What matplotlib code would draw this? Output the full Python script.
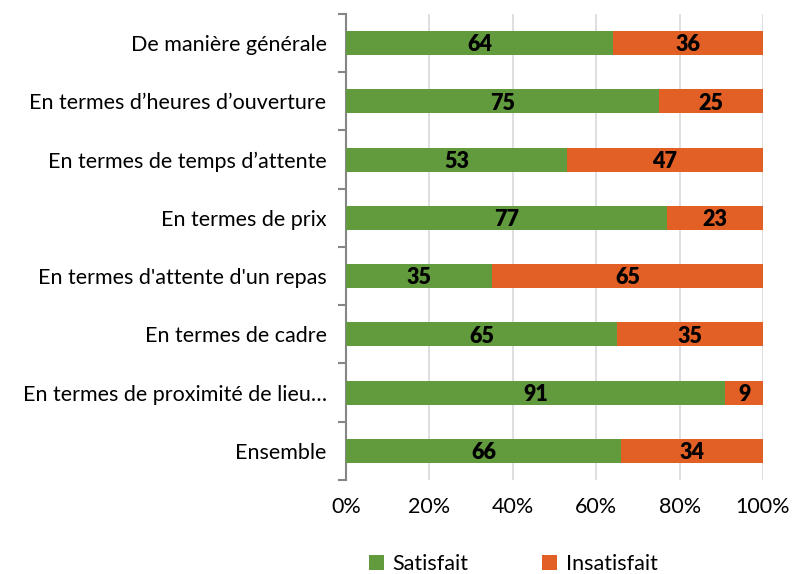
import matplotlib
matplotlib.use("Agg")
import matplotlib.pyplot as plt
import numpy as np

categories = ["De manière générale", "En termes d’heures d’ouverture",
              "En termes de temps d’attente", "En termes de prix",
              "En termes d'attente d'un repas", "En termes de cadre",
              "En termes de proximité de lieu…", "Ensemble"]
satisfait = [64, 75, 53, 77, 35, 65, 91, 66]
insatisfait = [36, 25, 47, 23, 65, 35, 9, 34]
xticks = [0, 20, 40, 60, 80, 100]
xticklabels = ["0%", "20%", "40%", "60%", "80%", "100%"]

plt.rcParams['font.family'] = ['Lato', 'DejaVu Sans']
green = "#629A3E"
orange = "#E26026"

fig = plt.figure(figsize=(7.92, 5.74), dpi=100)
ax = fig.add_axes([0.4369, 0.1638, 0.9634 - 0.4369, 0.9756 - 0.1638])

n = len(categories)
y = np.arange(n)[::-1]
h = 0.41
ax.barh(y, satisfait, height=h, color=green, label="Satisfait", zorder=3)
ax.barh(y, insatisfait, left=satisfait, height=h, color=orange, label="Insatisfait", zorder=3)

for yi, s, i in zip(y, satisfait, insatisfait):
    ax.text(s / 2, yi - 0.03, str(s), ha='center', va='center', fontsize=15.5, fontweight='heavy', color='black', zorder=4)
    ax.text(s + i / 2, yi - 0.03, str(i), ha='center', va='center', fontsize=15.5, fontweight='heavy', color='black', zorder=4)

ax.set_xlim(0, 100)
ax.set_ylim(-0.5, n - 0.5)
ax.set_xticks(xticks)
ax.set_xticklabels(xticklabels, fontsize=15.5)
ax.tick_params(axis='x', length=0, pad=12)
ax.xaxis.grid(True, color='#D9D9D9', linewidth=1.2, zorder=0)

ax.set_yticks(y)
ax.set_yticklabels(categories, fontsize=15.5)
ax.tick_params(axis='y', which='major', length=0, pad=14)
ax.set_yticks(np.arange(-0.5, n, 1.0), minor=True)
ax.tick_params(axis='y', which='minor', length=6, width=1.5, color='#868686', direction='out')

for s in ['top', 'right', 'bottom']:
    ax.spines[s].set_visible(False)
ax.spines['left'].set_color('#868686')
ax.spines['left'].set_linewidth(1.5)

fig.legend(loc='center', bbox_to_anchor=(0.648, 0.018), ncol=2, frameon=False, fontsize=15.5,
           handlelength=0.7, handleheight=0.7, columnspacing=3.4, handletextpad=0.4)

fig.savefig("out.png", dpi=100)
